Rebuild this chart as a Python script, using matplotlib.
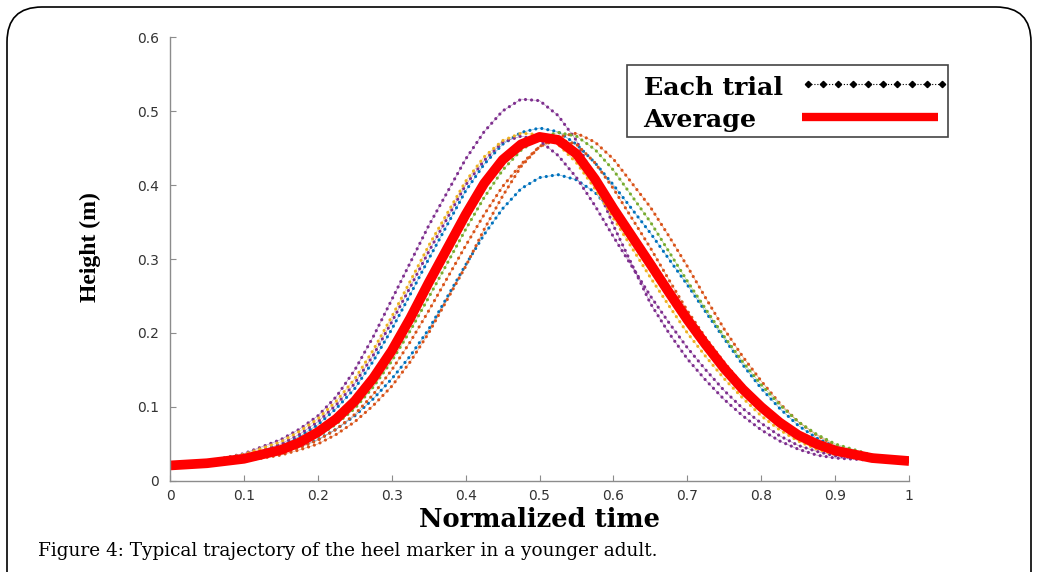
import matplotlib
matplotlib.use("Agg")
import matplotlib.pyplot as plt
import numpy as np
from matplotlib.patches import FancyBboxPatch, Rectangle

# normalized time samples (denser where the curves bend)
t = [0, .05, .1, .15, .175, .2, .225, .25, .275, .3, .325, .35, .4, .425, .45, .475, .5,
     .525, .55, .575, .6, .65, .675, .7, .725, .75, .775, .8, .825, .85, .875, .9, .95, 1.0]

# heel height of each trial (m)
trial1 = [.021, .026, .037, .056, .070, .088, .114, .150, .195, .245, .295, .345, .435, .472, .500, .516, .514,
          .494, .460, .405, .345, .240, .200, .165, .136, .110, .088, .069, .054, .043, .035, .031, .028, .027]
trial2 = [.021, .023, .028, .038, .046, .056, .070, .088, .111, .138, .169, .205, .292, .333, .368, .395, .410,
          .414, .407, .390, .362, .300, .262, .225, .190, .158, .129, .102, .080, .063, .050, .041, .031, .027]
trial3 = [.021, .025, .033, .048, .060, .076, .098, .125, .162, .205, .252, .300, .392, .428, .455, .471, .477,
          .472, .455, .430, .400, .335, .300, .265, .228, .192, .157, .125, .098, .075, .058, .046, .033, .027]
trial4 = [.021, .023, .028, .037, .045, .055, .070, .090, .117, .150, .188, .230, .318, .360, .398, .428, .452,
          .465, .470, .458, .435, .370, .331, .290, .247, .205, .168, .135, .105, .080, .062, .048, .033, .027]
trial5 = [.021, .023, .029, .040, .049, .060, .077, .098, .127, .162, .203, .248, .340, .383, .420, .447, .464,
          .471, .466, .448, .420, .350, .310, .270, .232, .195, .161, .130, .103, .080, .063, .050, .035, .028]
trial6 = [.021, .022, .027, .035, .042, .050, .063, .080, .102, .128, .161, .200, .290, .340, .385, .425, .452,
          .462, .455, .430, .395, .315, .272, .230, .193, .160, .130, .102, .080, .062, .049, .040, .031, .027]
trial7 = [.021, .025, .034, .050, .063, .080, .103, .132, .170, .215, .262, .310, .400, .433, .458, .466, .460,
          .440, .410, .372, .330, .250, .214, .180, .150, .122, .098, .078, .061, .048, .040, .034, .029, .027]
trial8 = [.021, .026, .036, .053, .067, .084, .108, .138, .177, .222, .270, .318, .405, .438, .460, .470, .468,
          .455, .430, .395, .355, .275, .237, .200, .168, .138, .112, .088, .069, .054, .043, .036, .030, .027]
average = [.021, .024, .030, .042, .052, .066, .084, .108, .139, .176, .220, .268, .360, .402, .434, .455, .465,
           .461, .442, .408, .368, .293, .255, .218, .184, .152, .124, .100, .079, .062, .050, .041, .031, .027]

trials = [trial1, trial2, trial3, trial4, trial5, trial6, trial7, trial8]
colors = ['#7E2F8E', '#0072BD', '#0072BD', '#D95319', '#77AC30', '#D95319', '#7E2F8E', '#EDB120']

xticks = [0, 0.1, 0.2, 0.3, 0.4, 0.5, 0.6, 0.7, 0.8, 0.9, 1]
xticklabels = ['0', '0.1', '0.2', '0.3', '0.4', '0.5', '0.6', '0.7', '0.8', '0.9', '1']
yticks = [0, 0.1, 0.2, 0.3, 0.4, 0.5, 0.6]
yticklabels = ['0', '0.1', '0.2', '0.3', '0.4', '0.5', '0.6']
legend_labels = ['Each trial', 'Average']

fig = plt.figure(figsize=(10.38, 5.72), dpi=100)
ax = fig.add_axes([0.1638, 0.1591, 0.712, 0.7762])

for y, c in zip(trials, colors):
    ax.plot(t, y, color=c, lw=0.5, alpha=0.5)
    ax.plot(t, y, color=c, lw=2.3, linestyle=(0, (0.01, 1.9)), dash_capstyle='round')

ax.plot(t, average, color='#FF0000', lw=7, solid_capstyle='butt', solid_joinstyle='round')

ax.set_xlim(0, 1)
ax.set_ylim(0, 0.6)
ax.set_xticks(xticks)
ax.set_xticklabels(xticklabels)
ax.set_yticks(yticks)
ax.set_yticklabels(yticklabels)
for s in ['top', 'right']:
    ax.spines[s].set_visible(False)
for s in ['left', 'bottom']:
    ax.spines[s].set_color('#8c8c8c')
    ax.spines[s].set_linewidth(1.0)
ax.tick_params(direction='in', length=4, color='#8c8c8c', labelsize=10, labelcolor='#333333')
ax.tick_params(axis='x', pad=6)
ax.tick_params(axis='y', pad=8)

ax.set_xlabel('Normalized time', family='DejaVu Serif', fontweight='bold', fontsize=18.5)
ax.xaxis.set_label_coords(0.4993, -0.058)
ax.set_ylabel('Height (m)', family='Liberation Serif', fontweight='bold', fontsize=17)
ax.yaxis.set_label_coords(-0.094, 0.527)

# legend box drawn by hand: text on the left, sample lines on the right
ax.add_patch(Rectangle((0.6188, 0.7747), 1.0528 - 0.6188, 0.9369 - 0.7747, transform=ax.transAxes,
                       fill=True, facecolor='white', edgecolor='#444444', lw=1.2, clip_on=False, zorder=5))
lab_font = dict(family='DejaVu Serif', fontweight='bold', fontsize=18.3, transform=ax.transAxes,
                ha='left', va='baseline', zorder=6, clip_on=False)
ax.text(0.6407, 0.8694, legend_labels[0], **lab_font)
ax.text(0.6407, 0.7973, legend_labels[1], **lab_font)
mx = np.linspace(0.8633, 1.0447, 10)
ax.plot([0.8633, 1.0447], [0.8934, 0.8934], transform=ax.transAxes, color='black', lw=0.8,
        linestyle=':', clip_on=False, zorder=6)
ax.plot(mx, [0.8934] * len(mx), transform=ax.transAxes, color='black', lw=0, marker='D',
        markersize=3.2, clip_on=False, zorder=6)
ax.plot([0.8548, 1.0397], [0.8191, 0.8191], transform=ax.transAxes, color='#FF0000', lw=6,
        solid_capstyle='butt', clip_on=False, zorder=6)

fig.text(38 / 1038, 1 - 551 / 572, 'Figure 4: Typical trajectory of the heel marker in a younger adult.',
         family='DejaVu Serif', fontsize=13.3, va='center', ha='left')

border = FancyBboxPatch((0.07, -0.5), 10.24, 6.15, boxstyle='round,pad=0,rounding_size=0.35',
                        transform=fig.dpi_scale_trans, fill=False, edgecolor='black', lw=1.2)
fig.patches.append(border)

fig.savefig('out.png', dpi=100)
